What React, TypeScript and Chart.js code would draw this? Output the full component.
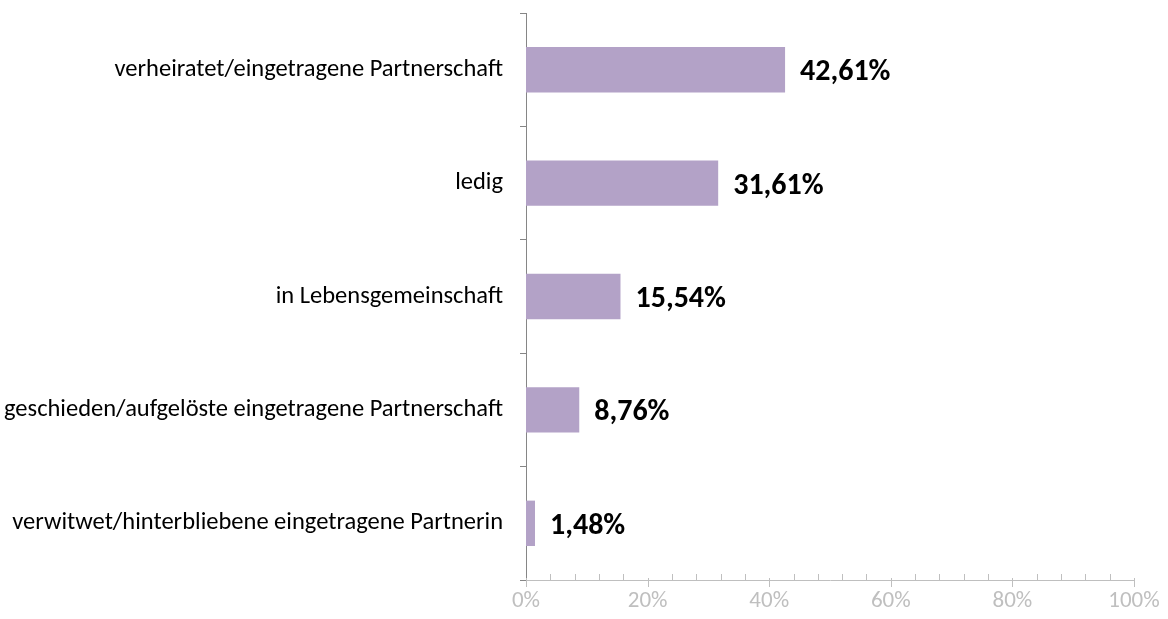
import React, { useEffect, useRef } from "react";
import { Chart, registerables } from "chart.js";

Chart.register(...registerables);

const categories = [
  "verheiratet/eingetragene Partnerschaft",
  "ledig",
  "in Lebensgemeinschaft",
  "geschieden/aufgelöste eingetragene Partnerschaft",
  "verwitwet/hinterbliebene eingetragene Partnerin",
];
const values = [42.61, 31.61, 15.54, 8.76, 1.48];
const valueLabels = ["42,61%", "31,61%", "15,54%", "8,76%", "1,48%"];
const xMin = 0;
const xMax = 100;
const majorStep = 20;
const minorStep = 4;

const FONT = "Carlito, 'Open Sans', sans-serif";

const xTickPlugin = {
  id: "xTicks",
  afterDraw(chart: any) {
    const x = chart.scales.x;
    const ctx = chart.ctx;
    const y = x.top;
    ctx.save();
    ctx.strokeStyle = "#bfbfbf";
    ctx.lineWidth = 1;
    for (let v = xMin; v <= xMax; v += minorStep) {
      const px = Math.round(x.getPixelForValue(v)) + 0.5;
      ctx.beginPath();
      if (v % majorStep === 0) {
        ctx.moveTo(px, y - 2);
        ctx.lineTo(px, y + 7);
      } else {
        ctx.moveTo(px, y - 6);
        ctx.lineTo(px, y);
      }
      ctx.stroke();
    }
    ctx.restore();
  },
};

const dataLabelPlugin = {
  id: "dataLabels",
  afterDatasetsDraw(chart: any) {
    const ctx = chart.ctx;
    const meta = chart.getDatasetMeta(0);
    ctx.save();
    ctx.font = `bold 30px ${FONT}`;
    ctx.fillStyle = "#000000";
    ctx.textAlign = "left";
    ctx.textBaseline = "middle";
    meta.data.forEach((bar: any, i: number) => {
      ctx.fillText(valueLabels[i], bar.x + 15, bar.y + 3);
    });
    ctx.restore();
  },
};

export default function App() {
  const ref = useRef<HTMLCanvasElement>(null);
  useEffect(() => {
    document.body.style.margin = "0";
    const chart = new Chart(ref.current!, {
      type: "bar",
      data: {
        labels: categories,
        datasets: [
          {
            data: values,
            backgroundColor: "#b3a2c7",
            borderWidth: 0,
            categoryPercentage: 0.4,
            barPercentage: 1,
          },
        ],
      },
      options: {
        indexAxis: "y",
        animation: false,
        responsive: true,
        maintainAspectRatio: false,
        layout: { padding: { top: 13, right: 34, left: 0, bottom: 0 } },
        plugins: { legend: { display: false }, tooltip: { enabled: false } },
        scales: {
          x: {
            type: "linear",
            min: xMin,
            max: xMax,
            afterFit(scale: any) {
              scale.height = 39;
              scale.paddingLeft = 0;
              scale.paddingRight = 0;
            },
            ticks: {
              stepSize: majorStep,
              callback: (v: any) => v + "%",
              color: "#bfbfbf",
              font: { family: FONT, size: 23 },
              padding: 7,
              maxRotation: 0,
            },
            grid: { display: false, drawTicks: false },
            border: { display: true, color: "#bfbfbf", width: 1 },
          },
          y: {
            type: "category",
            afterFit(scale: any) {
              scale.width = 526;
              scale.paddingTop = 0;
              scale.paddingBottom = 0;
            },
            ticks: {
              color: "#000000",
              font: { family: FONT, size: 24.5 },
              padding: 17,
            },
            grid: {
              display: true,
              drawOnChartArea: false,
              drawTicks: true,
              tickLength: 6,
              offset: true,
              color: "#868686",
            },
            border: { display: true, color: "#868686", width: 1 },
          },
        },
      },
      plugins: [xTickPlugin, dataLabelPlugin],
    });
    return () => chart.destroy();
  }, []);
  return (
    <div style={{ position: "relative", width: 1168, height: 619 }}>
      <canvas ref={ref} />
    </div>
  );
}
